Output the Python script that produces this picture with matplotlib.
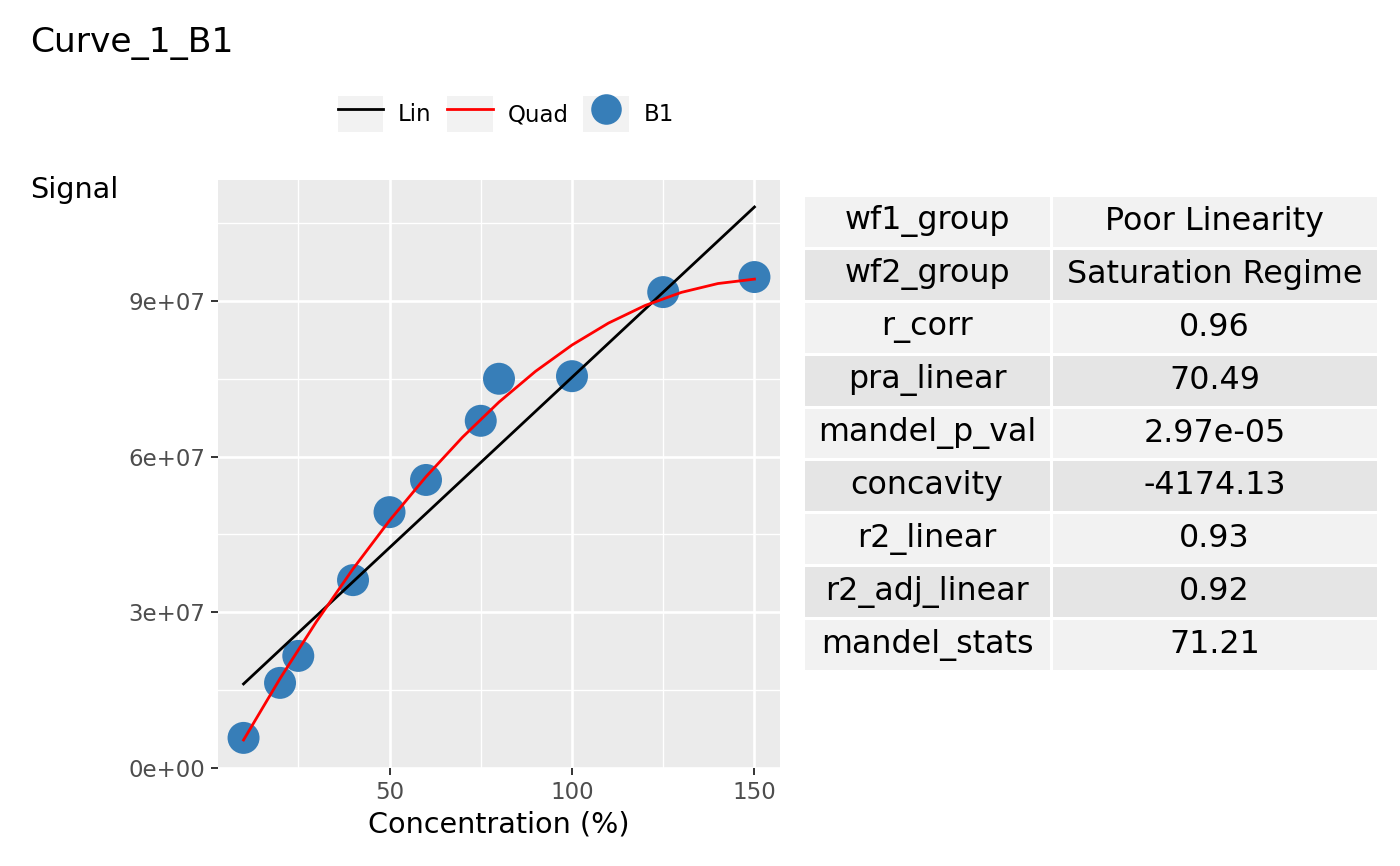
import numpy as np
import matplotlib
matplotlib.use('Agg')
import matplotlib.pyplot as plt
from matplotlib.lines import Line2D
from matplotlib.patches import Patch, Rectangle
from matplotlib.legend_handler import HandlerTuple
from matplotlib.ticker import FuncFormatter, FixedLocator

# measured points (B1)
conc = [10, 20, 25, 40, 50, 60, 75, 80, 100, 125, 150]
signal = [5.8e6, 1.64e7, 2.16e7, 3.62e7, 4.93e7, 5.55e7, 6.69e7, 7.50e7, 7.55e7, 9.17e7, 9.46e7]

# linear fit line (read at its ends)
lin_x = [10, 150]
lin_y = [1.62e7, 1.081e8]

# quadratic fit
quad_x = [10, 20, 30, 40, 50, 60, 70, 80, 90, 100, 110, 120, 130, 140, 150]
quad_y = [5.40e6, 1.724e7, 2.823e7, 3.837e7, 4.768e7, 5.613e7, 6.374e7, 7.051e7,
          7.643e7, 8.150e7, 8.573e7, 8.911e7, 9.165e7, 9.335e7, 9.420e7]

stat_names = ['wf1_group', 'wf2_group', 'r_corr', 'pra_linear', 'mandel_p_val',
              'concavity', 'r2_linear', 'r2_adj_linear', 'mandel_stats']
stat_values = ['Poor Linearity', 'Saturation Regime', '0.96', '70.49', '2.97e-05',
               '-4174.13', '0.93', '0.92', '71.21']

W, H = 1400, 866
fig = plt.figure(figsize=(W / 100, H / 100), dpi=100)

def fx(px):
    return px / W

def fy(py):
    return 1 - py / H

# main panel
ax = fig.add_axes([fx(218), fy(768), fx(780) - fx(218), fy(180) - fy(768)])
ax.set_facecolor('#EBEBEB')
for s in ax.spines.values():
    s.set_visible(False)

ax.set_xlim(3, 157)
ax.set_ylim(0, 1.133e8)
ax.xaxis.set_major_locator(FixedLocator([50, 100, 150]))
ax.xaxis.set_minor_locator(FixedLocator([25, 75, 125]))
ax.yaxis.set_major_locator(FixedLocator([0, 3e7, 6e7, 9e7]))
ax.yaxis.set_minor_locator(FixedLocator([1.5e7, 4.5e7, 7.5e7, 1.05e8]))
ax.yaxis.set_major_formatter(FuncFormatter(lambda v, p: '{:.0e}'.format(v)))
ax.grid(which='major', color='white', linewidth=1.9)
ax.grid(which='minor', color='white', linewidth=0.95)
ax.set_axisbelow(True)
ax.tick_params(which='major', length=5.2, width=1.4, color='#333333',
               labelsize=16.5, labelcolor='#4D4D4D', pad=4)
ax.tick_params(which='minor', length=0)

ax.plot(lin_x, lin_y, color='black', linewidth=2.0, zorder=3)
ax.plot(quad_x, quad_y, color='red', linewidth=2.0, zorder=3)
ax.scatter(conc, signal, s=530, color='#377EB8', edgecolors='none', zorder=2)

ax.set_xlabel('Concentration (%)', fontsize=20.6, labelpad=5)

fig.text(fx(30), fy(190), 'Signal', fontsize=20.6, ha='left', va='center')
fig.text(fx(30), fy(43), 'Curve_1_B1', fontsize=24.8, ha='left', va='center')

# legend with grey key backgrounds
key_bg = dict(facecolor='#F2F2F2', edgecolor='none')
handles = [
    (Patch(**key_bg), Line2D([], [], color='black', linewidth=2.0)),
    (Patch(**key_bg), Line2D([], [], color='red', linewidth=2.0)),
    (Patch(**key_bg), Line2D([], [], linestyle='none', marker='o', markersize=22,
                             markerfacecolor='#377EB8', markeredgecolor='none')),
]
fig.legend(handles, ['Lin', 'Quad', 'B1'], ncol=3, loc='center',
           bbox_to_anchor=(fx(506), fy(114)), frameon=False, fontsize=16.5,
           handler_map={tuple: HandlerTuple(ndivide=1, pad=0)},
           handlelength=2.0, handleheight=2.0, handletextpad=0.65,
           columnspacing=0.65, borderpad=0, borderaxespad=0)

# stats table
tab = fig.add_axes([fx(803), fy(671), fx(1378) - fx(803), fy(195) - fy(671)])
tab.set_xlim(0, 1)
tab.set_ylim(len(stat_names), 0)
tab.axis('off')
col_split = (1051 - 803) / (1378 - 803)
for i, (name, val) in enumerate(zip(stat_names, stat_values)):
    fill = '#F2F2F2' if i % 2 == 0 else '#E5E5E5'
    tab.add_patch(Rectangle((0, i), col_split, 1, facecolor=fill,
                            edgecolor='white', linewidth=2.2))
    tab.add_patch(Rectangle((col_split, i), 1 - col_split, 1, facecolor=fill,
                            edgecolor='white', linewidth=2.2))
    tab.text(col_split / 2, i + 0.5, name, ha='center', va='center', fontsize=22.9)
    tab.text((1 + col_split) / 2, i + 0.5, val, ha='center', va='center', fontsize=22.9)

fig.savefig('out.png', dpi=100)
